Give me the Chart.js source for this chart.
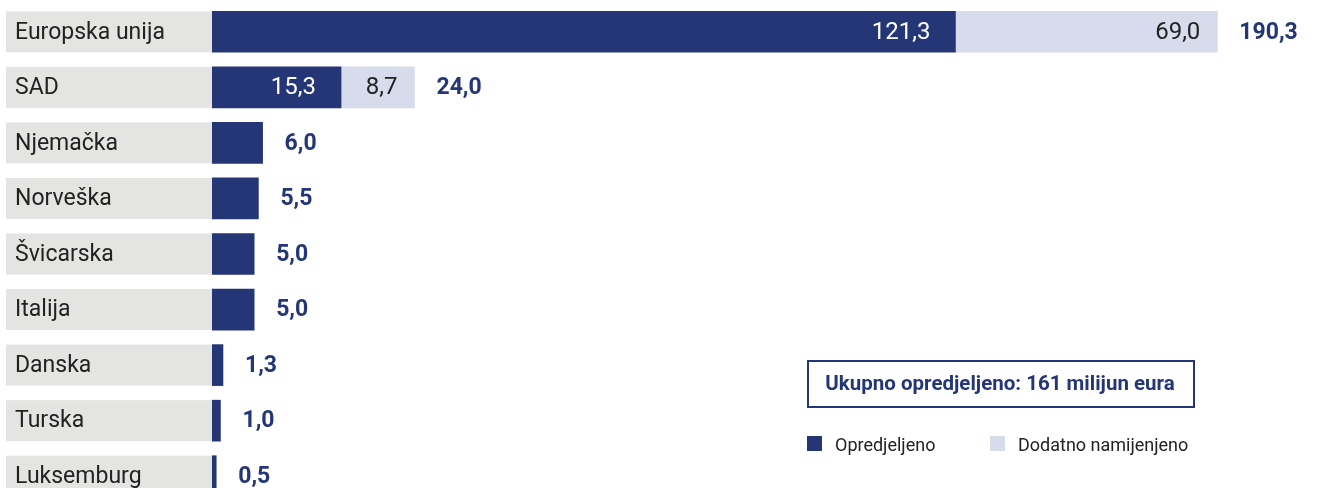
<!DOCTYPE html>
<html>
<head>
<meta charset="utf-8">
<script src="https://cdn.jsdelivr.net/npm/chart.js@4.4.1/dist/chart.umd.min.js"></script>
<style>
  html, body { margin: 0; padding: 0; background: #fff; }
  #clip { width: 1321px; height: 488px; overflow: hidden; }
  #wrap { position: relative; width: 1321px; height: 504px; }
</style>
</head>
<body>
<div id="clip"><div id="wrap"><canvas id="donors"></canvas></div></div>
<script>
var countries = ['Europska unija', 'SAD', 'Njemačka', 'Norveška', 'Švicarska', 'Italija', 'Danska', 'Turska', 'Luksemburg'];
var committed = [121.3, 15.3, 6.0, 5.5, 5.0, 5.0, 1.3, 1.0, 0.5];
var additional = [69.0, 8.7, null, null, null, null, null, null, null];
var seriesNames = ['Opredjeljeno', 'Dodatno namijenjeno'];
var boxText = 'Ukupno opredjeljeno: 161 milijun eura';

var NAVY = '#243675';
var LIGHT = '#d7dcec';
var GREY = '#e4e4e3';
var FONT = 'Roboto, "Noto Sans", sans-serif';

// the long EU bar is drawn with an axis break: past BREAK the scale is squeezed
var BREAK = 61, SQUEEZE = 0.45;
function squash(v) { return v <= BREAK ? v : BREAK + (v - BREAK) * SQUEEZE; }
function unsquash(s) { return s <= BREAK ? s : BREAK + (s - BREAK) / SQUEEZE; }

class BrokenScale extends Chart.LinearScale {
    getPixelForValue(v) {
        if (v === null || v === undefined) return NaN;
        return this.getPixelForDecimal(squash(v) / squash(this.max));
    }
    getValueForPixel(p) {
        return unsquash(this.getDecimalForPixel(p) * squash(this.max));
    }
}
BrokenScale.id = 'broken';
BrokenScale.defaults = Chart.LinearScale.defaults;
Chart.register(BrokenScale);

function fmt(v) { return v.toFixed(1).replace('.', ','); }

var rowsPlugin = {
    id: 'rows',
    beforeDatasetsDraw: function (chart) {
        var ctx = chart.ctx;
        var meta = chart.getDatasetMeta(0);
        ctx.save();
        ctx.font = '23px ' + FONT;
        ctx.textBaseline = 'middle';
        meta.data.forEach(function (bar, i) {
            ctx.fillStyle = GREY;
            ctx.fillRect(6, bar.y - bar.height / 2, chart.chartArea.left - 6, bar.height);
            ctx.fillStyle = '#222';
            ctx.fillText(countries[i], 15, bar.y + 1);
        });
        ctx.restore();
    },
    afterDatasetsDraw: function (chart) {
        var ctx = chart.ctx;
        var m0 = chart.getDatasetMeta(0);
        var m1 = chart.getDatasetMeta(1);
        ctx.save();
        ctx.textBaseline = 'middle';
        m0.data.forEach(function (bar, i) {
            var end = bar.x;
            if (additional[i] !== null) {
                var b2 = m1.data[i];
                ctx.font = '24px ' + FONT;
                ctx.textAlign = 'right';
                ctx.fillStyle = '#fff';
                ctx.fillText(fmt(committed[i]), bar.x - 25, bar.y + 1);
                ctx.fillStyle = '#222';
                ctx.fillText(fmt(additional[i]), b2.x - 17, b2.y + 1);
                end = b2.x;
            }
            var total = committed[i] + (additional[i] || 0);
            ctx.font = 'bold 23px ' + FONT;
            ctx.textAlign = 'left';
            ctx.fillStyle = NAVY;
            ctx.fillText(fmt(total), end + 22, bar.y + 1);
        });

        // note box
        ctx.strokeStyle = NAVY;
        ctx.lineWidth = 2;
        ctx.strokeRect(808, 361, 386, 46);
        ctx.font = 'bold 20.5px ' + FONT;
        ctx.textAlign = 'center';
        ctx.fillStyle = NAVY;
        ctx.fillText(boxText, 1000, 385);

        // legend
        var lx = [807, 990];
        ctx.font = '18px ' + FONT;
        ctx.textAlign = 'left';
        chart.data.datasets.forEach(function (ds, j) {
            ctx.fillStyle = ds.backgroundColor;
            ctx.fillRect(lx[j], 436, 15, 15);
            ctx.fillStyle = '#222';
            ctx.fillText(ds.label, lx[j] + 28, 446);
        });
        ctx.restore();
    }
};

var ctx = document.getElementById('donors').getContext('2d');
var chart = new Chart(ctx, {
    type: 'bar',
    data: {
        labels: countries,
        datasets: [
            {
                label: seriesNames[0],
                data: committed,
                backgroundColor: NAVY,
                borderWidth: 0,
                barThickness: 41
            },
            {
                label: seriesNames[1],
                data: additional,
                backgroundColor: LIGHT,
                borderWidth: 0,
                barThickness: 41
            }
        ]
    },
    options: {
        indexAxis: 'y',
        responsive: true,
        maintainAspectRatio: false,
        animation: false,
        layout: {
            padding: { left: 212, right: 8, top: 4, bottom: 0 }
        },
        scales: {
            x: { type: 'broken', stacked: true, min: 0, max: 215.5, display: false },
            y: { stacked: true, display: false }
        },
        plugins: {
            legend: { display: false },
            tooltip: { enabled: false }
        }
    },
    plugins: [rowsPlugin]
});
</script>
</body>
</html>
